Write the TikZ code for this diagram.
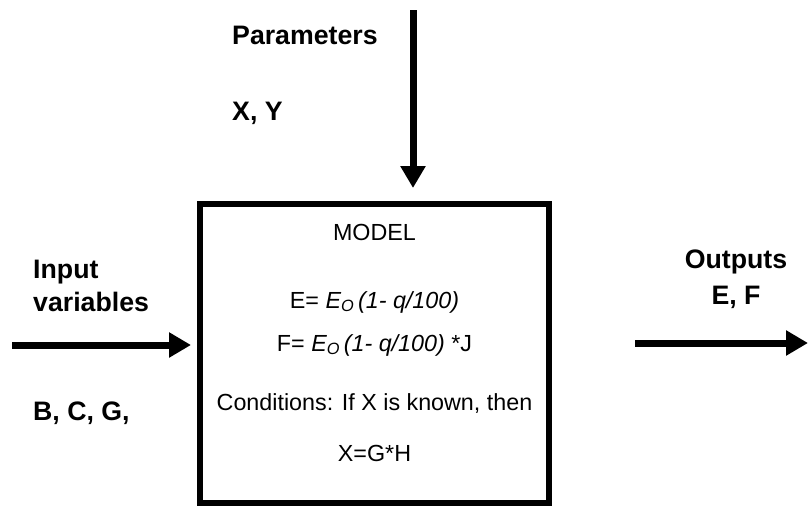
\documentclass[tikz,border=0pt]{standalone}
\usepackage{fontspec}
\setmainfont{Liberation Sans}
\usetikzlibrary{arrows.meta}
\tikzset{
  lbl/.style={font=\fontsize{26.7}{30}\selectfont\bfseries, inner sep=0pt, anchor=base west},
  lblc/.style={font=\fontsize{26.7}{30}\selectfont\bfseries, inner sep=0pt, anchor=base},
  txt/.style={font=\fontsize{23.3}{28}\selectfont, inner sep=0pt, anchor=base},
  flow/.style={line width=7pt, -{Triangle[length=22pt,width=24pt]}},
  modelbox/.style={draw, line width=6pt, minimum width=349pt, minimum height=299pt, inner sep=0pt}
}
\begin{document}
\begin{tikzpicture}[x=1pt,y=-1pt]
\useasboundingbox (0,0) rectangle (808,512);
\node[modelbox] (model) at (374.5,353.5) {};
\coordinate (ptop) at (413,10);
\coordinate (pend) at (413,188);
\coordinate (istart) at (12,345);
\coordinate (iend) at (191,345);
\coordinate (ostart) at (635,343);
\coordinate (oend) at (808,343);
\draw[flow] (ptop) -- (pend);
\draw[flow] (istart) -- (iend);
\draw[flow] (ostart) -- (oend);
\node[lbl] (par) at (232,44) {Parameters};
\node[lbl] (xy) at (232,120) {X, Y};
\node[lbl] (inp) at (33,278) {Input};
\node[lbl] (var) at (33,311) {variables};
\node[lbl] (bcg) at (33,420) {B, C, G,};
\node[lblc] (out) at (736,268) {Outputs};
\node[lblc] (ef) at (736,304) {E, F};
\node[txt] (mod) at (374.5,240) {MODEL};
\node[txt] (eq1) at (374.5,308) {E= \textit{E\textsubscript{O}\,(1- q/100)}};
\node[txt] (eq2) at (374.5,351) {F= \textit{E\textsubscript{O}\,(1- q/100)} *J};
\node[txt] (cond) at (374.5,410) {Conditions: If X is known, then};
\node[txt] (xgh) at (374.5,461) {X=G*H};
\end{tikzpicture}
\end{document}
